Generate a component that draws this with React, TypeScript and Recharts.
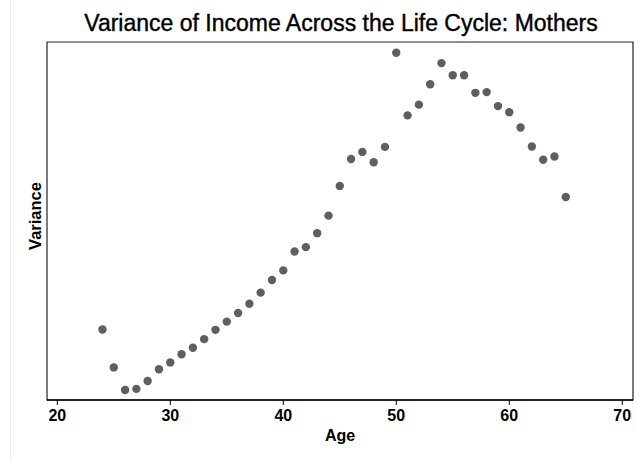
import React from 'react';
import { ScatterChart, Scatter, XAxis, YAxis, ReferenceArea } from 'recharts';

// ages 24..65, variance (y axis unlabelled, so units are relative)
const ages = [
  24, 25, 26, 27, 28, 29, 30, 31, 32, 33, 34, 35, 36, 37, 38, 39, 40, 41, 42, 43, 44,
  45, 46, 47, 48, 49, 50, 51, 52, 53, 54, 55, 56, 57, 58, 59, 60, 61, 62, 63, 64, 65,
];
const variance = [
  0.197, 0.091, 0.028, 0.031, 0.053, 0.086, 0.105, 0.128, 0.146, 0.170, 0.196, 0.219,
  0.243, 0.269, 0.300, 0.335, 0.362, 0.415, 0.427, 0.466, 0.515, 0.598, 0.673, 0.693,
  0.664, 0.707, 0.970, 0.795, 0.825, 0.882, 0.941, 0.907, 0.907, 0.858, 0.860, 0.821,
  0.804, 0.761, 0.708, 0.671, 0.680, 0.567,
];
const xTicks = [20, 30, 40, 50, 60, 70];

const points = ages.map((age, i) => ({ age, variance: variance[i] }));

const font = '"Liberation Sans", Arial, sans-serif';

const renderTick = (p: any) => (
  <text x={p.x} y={p.y + 14} textAnchor="middle" fontSize={16} fontWeight="bold" fontFamily={font} fill="#000">
    {p.payload.value}
  </text>
);

const App = () => {
  return (
    <div style={{ position: 'fixed', left: 0, top: 0, width: 636, height: 461, background: '#fff', fontFamily: font }}>
      <div style={{ position: 'absolute', left: 10, top: 0, width: 1, height: 461, background: '#ececec' }} />
      <div
        style={{
          position: 'absolute', left: 0, top: 10, width: 682, textAlign: 'center', fontSize: 23,
          color: '#000', WebkitTextStroke: '0.4px #000',
        }}
      >
        Variance of Income Across the Life Cycle: Mothers
      </div>
      <div
        style={{
          position: 'absolute', left: 35, top: 216, fontSize: 16.5, fontWeight: 'bold',
          transform: 'translate(-50%, -50%) rotate(-90deg)', whiteSpace: 'nowrap',
        }}
      >
        Variance
      </div>
      <ScatterChart width={636} height={461} margin={{ top: 42, right: 3, bottom: 31, left: 47 }}>
        <XAxis
          type="number"
          dataKey="age"
          domain={[19.09, 70.95]}
          ticks={xTicks}
          allowDataOverflow
          height={30}
          stroke="#000"
          axisLine={{ stroke: '#000', strokeWidth: 1.5 }}
          tickLine={{ stroke: '#000' }}
          tickSize={5}
          tick={renderTick}
          label={{
            value: 'Age', position: 'insideBottom', offset: -11, fill: '#000',
            fontSize: 16, fontWeight: 'bold', fontFamily: font,
          }}
        />
        <YAxis type="number" dataKey="variance" domain={[0, 1]} hide allowDataOverflow />
        <ReferenceArea x1={19.09} x2={70.95} y1={0} y2={1} fill="none" stroke="#222" strokeWidth={1.2} ifOverflow="visible" />
        <Scatter
          data={points}
          fill="#5f5f5f"
          isAnimationActive={false}
          shape={(p: any) => <circle cx={p.cx} cy={p.cy} r={4.2} fill="#5f5f5f" />}
        />
      </ScatterChart>
    </div>
  );
};

export default App;
